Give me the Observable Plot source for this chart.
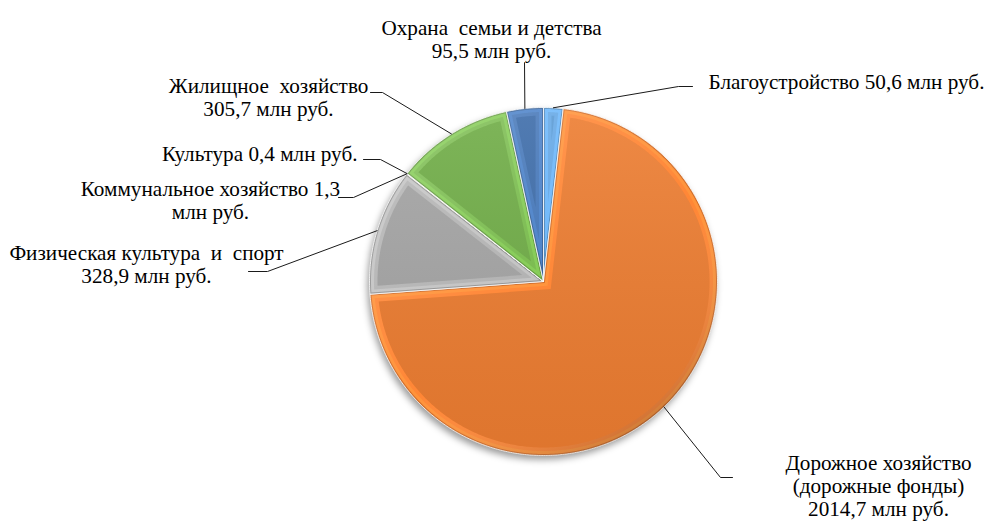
<!DOCTYPE html>
<html><head><meta charset="utf-8">
<script src="https://cdn.jsdelivr.net/npm/d3@7"></script>
<script src="https://cdn.jsdelivr.net/npm/@observablehq/plot@0.6"></script>
<style>
html,body{margin:0;padding:0;background:#fff;}
</style></head><body><div id="chart"></div>
<script>
// ---- data ----
const categories = ["Благоустройство", "Дорожное хозяйство (дорожные фонды)", "Физическая культура и спорт", "Коммунальное хозяйство", "Культура", "Жилищное хозяйство", "Охрана семьи и детства"];
const values = [50.6, 2014.7, 328.9, 1.3, 0.4, 305.7, 95.5];
const colors = ["#5B9BD5", "#ED7D31", "#A5A5A5", "#FFC000", "#4472C4", "#70AD47", "#3E6DAA"];
const labelTemplates = [
  "Благоустройство {v} млн руб.",
  "Дорожное хозяйство\n(дорожные фонды)\n{v} млн руб.",
  "Физическая культура  и  спорт\n{v} млн руб.",
  "Коммунальное хозяйство {v}\nмлн руб.",
  "Культура {v} млн руб.",
  "Жилищное  хозяйство\n{v} млн руб.",
  "Охрана  семьи и детства\n{v} млн руб."
];

// ---- layout ----
const W = 990, H = 524;
const cx = 543, cy = 281, R = 174;
const textScaleX = 1.06;
const labelLayout = [
  {x: 708, y: 81.6, anchor: "start", elbow: [678, 86], end: [692, 86]},
  {x: 878, y: 485.5, anchor: "middle", elbow: [720, 477], end: [732, 477]},
  {x: 146, y: 263.3, anchor: "middle", elbow: [267, 271], end: [248, 271]},
  {x: 210, y: 199.4, anchor: "middle", elbow: [353, 197], end: [338, 197]},
  {x: 357, y: 153.6, anchor: "end", elbow: [380, 159], end: [363, 159]},
  {x: 268, y: 96.9, anchor: "middle", elbow: [382, 92], end: [370, 92]},
  {x: 491, y: 38.6, anchor: "middle", elbow: [524, 62], end: [524, 62]}
];

const fmt = v => v.toFixed(1).replace(".", ",");
const slices = d3.pie().sort(null).value(d => d.value)(
  categories.map((c, i) => ({name: c, value: values[i], color: colors[i], i}))
);

function pt(a, rho) { return [cx + rho * Math.sin(a), cy - rho * Math.cos(a)]; }

function slicePolygon(s, d) {
  const a0 = s.startAngle, a1 = s.endAngle, th = a1 - a0, mid = (a0 + a1) / 2;
  const pts = [];
  let apex;
  if (d === 0) apex = [cx, cy];
  else {
    if (th < 0.02) return null;
    const dist = d / Math.sin(th / 2);
    if (dist > R - d - 4) return null;
    apex = pt(mid, dist);
  }
  const rr = R - d;
  const delta = d === 0 ? 0 : Math.asin(d / rr);
  const b0 = a0 + delta, b1 = a1 - delta;
  if (b1 <= b0) return null;
  pts.push(apex);
  const n = Math.max(2, Math.ceil((b1 - b0) / 0.01));
  for (let j = 0; j <= n; j++) pts.push(pt(b0 + (b1 - b0) * j / n, rr));
  pts.push(apex);
  return pts;
}

function layer(d, colorFn) {
  const out = [];
  slices.forEach(s => {
    const poly = slicePolygon(s, d);
    if (!poly) return;
    poly.forEach(p => out.push({k: s.data.i, x: p[0], y: p[1], fill: colorFn(s.data.color)}));
  });
  return out;
}

const edgePts = layer(0, c => d3.color(c).darker(0.35).formatHex());
const hiPts = layer(1.5, c => d3.color(c).brighter(0.45).formatHex());
const softPts = layer(4.5, c => d3.color(c).brighter(0.2).formatHex());
const innerPts = layer(8, c => c);

const leaderPts = [];
slices.forEach(s => {
  const i = s.data.i, L = labelLayout[i];
  const p0 = pt((s.startAngle + s.endAngle) / 2, R);
  [p0, L.elbow, L.end].forEach(p => leaderPts.push({k: i, x: p[0], y: p[1]}));
});

const labels = slices.map(s => {
  const i = s.data.i, L = labelLayout[i];
  return {x: L.x, y: L.y, anchor: L.anchor, text: labelTemplates[i].replace("{v}", fmt(s.data.value))};
});

function defs() {
  const g = d3.create("svg:defs");
  const f = g.append("filter").attr("id", "softBlur").attr("x", "-20%").attr("y", "-20%").attr("width", "140%").attr("height", "140%");
  f.append("feGaussianBlur").attr("stdDeviation", 3.5);
  const rim = g.append("linearGradient").attr("id", "rimGrad").attr("gradientUnits", "userSpaceOnUse")
    .attr("x1", cx - R * 0.7).attr("y1", cy - R).attr("x2", cx + R * 0.7).attr("y2", cy + R);
  rim.append("stop").attr("offset", "0").attr("stop-color", "#fff").attr("stop-opacity", 0.2);
  rim.append("stop").attr("offset", "0.55").attr("stop-color", "#fff").attr("stop-opacity", 0);
  rim.append("stop").attr("offset", "1").attr("stop-color", "#000").attr("stop-opacity", 0.28);
  const body = g.append("linearGradient").attr("id", "bodyGrad").attr("gradientUnits", "userSpaceOnUse")
    .attr("x1", cx).attr("y1", cy - R).attr("x2", cx).attr("y2", cy + R);
  body.append("stop").attr("offset", "0").attr("stop-color", "#fff").attr("stop-opacity", 0.1);
  body.append("stop").attr("offset", "1").attr("stop-color", "#000").attr("stop-opacity", 0.06);
  return g.node();
}

const textStyle = {x: "x", y: "y", text: "text", lineAnchor: "middle", lineHeight: 1.15, fontSize: 20, fill: "#000", fontFamily: "Liberation Serif"};

const chart = Plot.plot({
  width: W, height: H,
  margin: 0,
  x: {type: "identity", axis: null},
  y: {type: "identity", axis: null},
  color: {type: "identity"},
  style: {background: "#fff"},
  marks: [
    defs,
    Plot.dot([{x: cx - 2, y: cy + 4}], {x: "x", y: "y", r: R, fill: "#000", fillOpacity: 0.4, stroke: "none"}),
    Plot.line(edgePts, {x: "x", y: "y", z: "k", fill: "fill", stroke: "#fff", strokeWidth: 0.8, curve: "linear"}),
    Plot.line(hiPts, {x: "x", y: "y", z: "k", fill: "fill", stroke: "none"}),
    Plot.line(softPts, {x: "x", y: "y", z: "k", fill: "fill", stroke: "none"}),
    Plot.line(edgePts, {x: "x", y: "y", z: "k", fill: "url(#rimGrad)", stroke: "none"}),
    Plot.line(innerPts, {x: "x", y: "y", z: "k", fill: "fill", stroke: "none"}),
    Plot.line(innerPts, {x: "x", y: "y", z: "k", fill: "url(#bodyGrad)", stroke: "none"}),
    Plot.line(leaderPts, {x: "x", y: "y", z: "k", stroke: "#1a1a1a", strokeWidth: 1}),
    Plot.text(labels.filter(d => d.anchor === "start"), {...textStyle, textAnchor: "start"}),
    Plot.text(labels.filter(d => d.anchor === "middle"), {...textStyle, textAnchor: "middle"}),
    Plot.text(labels.filter(d => d.anchor === "end"), {...textStyle, textAnchor: "end"})
  ]
});
// shadow blur on the circle under the pie
d3.select(chart).selectAll("circle").style("filter", "url(#softBlur)");
// slight horizontal stretch of the labels, as in the reference
d3.select(chart).selectAll("text").each(function () {
  const t = this.getAttribute("transform") || "";
  this.setAttribute("transform", t + ` scale(${textScaleX},1)`);
});
document.getElementById("chart").appendChild(chart);
</script></body></html>
